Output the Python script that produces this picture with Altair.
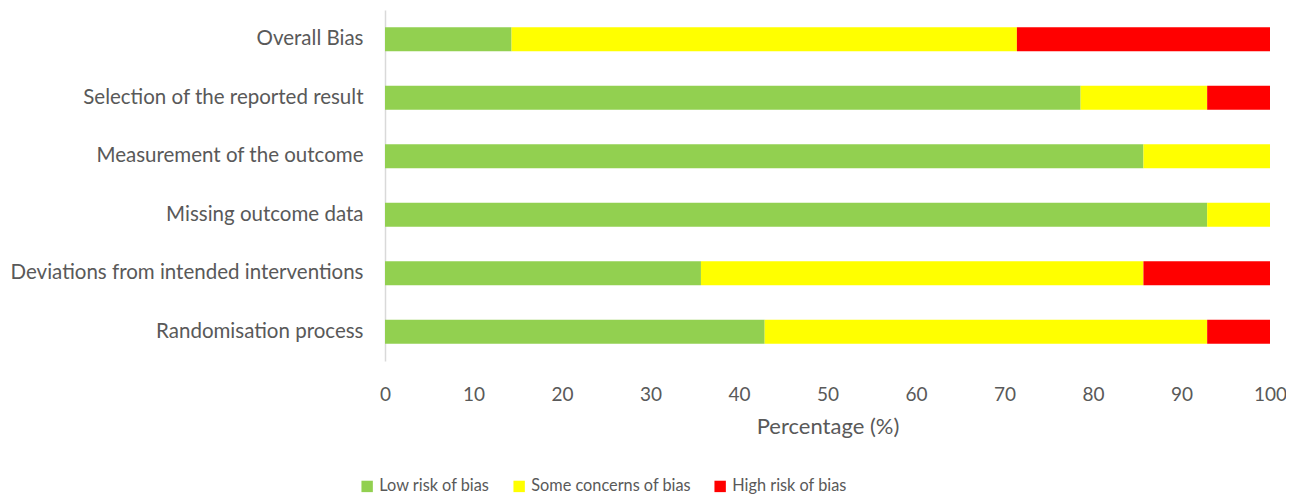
import altair as alt
import pandas as pd

domains = [
    "Overall Bias",
    "Selection of the reported result",
    "Measurement of the outcome",
    "Missing outcome data",
    "Deviations from intended interventions",
    "Randomisation process",
]
low = [14.3, 78.6, 85.7, 92.9, 35.7, 42.9]
some = [57.1, 14.3, 14.3, 7.1, 50.0, 50.0]
high = [28.6, 7.1, 0.0, 0.0, 14.3, 7.1]

categories = ["Low risk of bias", "Some concerns of bias", "High risk of bias"]
colors = ["#92D050", "#FFFF00", "#FF0000"]

rows = []
for i, d in enumerate(domains):
    for k, (cat, vals) in enumerate(zip(categories, [low, some, high])):
        rows.append({"Domain": d, "Risk": cat, "Value": vals[i], "order": k})
df = pd.DataFrame(rows)

font = "Lato"
text_color = "#595959"

chart = alt.Chart(df).mark_bar(size=24).encode(
    y=alt.Y("Domain:N", sort=domains, title=None,
            axis=alt.Axis(labelFontSize=20.5, labelColor=text_color, labelFont=font,
                          ticks=False, domainColor="#d9d9d9", domainWidth=1.5,
                          labelPadding=22, labelLimit=400)),
    x=alt.X("Value:Q", stack="zero", title="Percentage (%)",
            scale=alt.Scale(domain=[0, 100], nice=False),
            axis=alt.Axis(values=list(range(0, 101, 10)), grid=False, domain=False,
                          ticks=False, labelFontSize=19, labelColor=text_color,
                          labelFont=font, labelPadding=24, labelFlush=False,
                          titleFontSize=22, titleFont=font, titleColor=text_color,
                          titleFontWeight="normal", titlePadding=12)),
    color=alt.Color("Risk:N", sort=categories,
                    scale=alt.Scale(domain=categories, range=colors),
                    legend=alt.Legend(title=None, orient="none", direction="horizontal",
                                      legendX=-26, legendY=468,
                                      symbolType="square", symbolSize=130,
                                      symbolStrokeWidth=0, symbolOpacity=1,
                                      labelFontSize=16.3, labelFont=font,
                                      labelColor=text_color, columnPadding=21,
                                      labelOffset=4, labelLimit=300)),
    order=alt.Order("order:Q"),
).properties(
    width=885, height=351,
    background="white",
    autosize=alt.AutoSizeParams(type="none"),
    padding={"left": 377, "top": 2, "right": 16, "bottom": 134},
).configure_view(strokeWidth=0)

chart.save("out.html", embed_options={"renderer": "svg", "actions": False})
